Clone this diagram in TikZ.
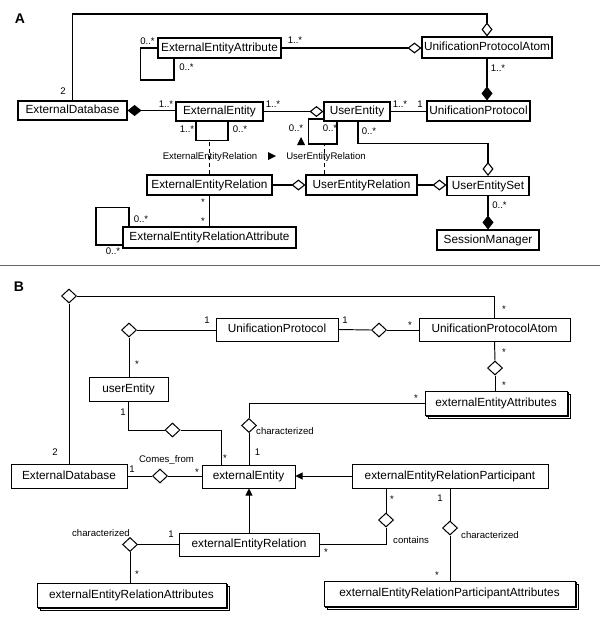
\documentclass[tikz,border=0pt]{standalone}
\usepackage{fontspec}
\setmainfont{Liberation Sans}
\usetikzlibrary{arrows.meta,shapes.geometric,shadows}
\begin{document}
\begin{tikzpicture}[x=1pt,y=-1pt,
 box/.style={draw,line width=1.1pt,fill=white,inner sep=0pt,font=\fontsize{11.8}{14}\selectfont,text height=8.6pt,text depth=2.5pt},
 bbox/.style={box,line width=1pt},
 lbl/.style={font=\fontsize{9.6}{11}\selectfont,inner sep=0pt,text height=6.9pt,text depth=0pt},
 ttl/.style={font=\fontsize{14}{16}\selectfont\bfseries,inner sep=0pt},
 con/.style={line width=1.1pt},
 bcon/.style={line width=0.95pt},
 odA/.style={-{Diamond[fill=white,length=14pt,width=11pt]}},
 fdA/.style={{Diamond[length=14pt,width=11pt]}-},
 fdE/.style={-{Diamond[length=14pt,width=11pt]}},
 dia/.style={diamond,draw,line width=1pt,fill=white,inner sep=0pt,minimum width=15pt,minimum height=14pt},
 gen/.style={-{Triangle[length=7pt,width=7pt]}},
 stk/.style={bbox,double copy shadow={shadow xshift=1.8pt,shadow yshift=-1.8pt}}
]
\useasboundingbox (0,0) rectangle (600,637);

% ---------------- Part A ----------------
\node[ttl] (tA) at (20,19) {A};
\node[box,minimum width=123pt,minimum height=20pt] (EEA) at (219.5,48) {ExternalEntityAttribute};
\node[box,minimum width=130pt,minimum height=21pt] (UPA) at (487,47.5) {UnificationProtocolAtom};
\node[box,minimum width=103pt,minimum height=20pt] (UP) at (478.5,111) {UnificationProtocol};
\node[box,minimum width=109pt,minimum height=19pt] (ED) at (72.5,110.5) {ExternalDatabase};
\node[box,minimum width=87pt,minimum height=19pt] (EE) at (219.5,111.5) {ExternalEntity};
\node[box,minimum width=66pt,minimum height=19pt] (UE) at (357,111.5) {UserEntity};
\node[box,minimum width=125pt,minimum height=20pt] (EER) at (209.5,185) {ExternalEntityRelation};
\node[box,minimum width=111pt,minimum height=20pt] (UER) at (361.5,185) {UserEntityRelation};
\node[box,minimum width=82pt,minimum height=19pt] (UES) at (488,186) {UserEntitySet};
\node[box,minimum width=102pt,minimum height=20pt] (SM) at (488,240) {SessionManager};
\node[box,minimum width=173pt,minimum height=21pt] (EERA) at (209.5,237.5) {ExternalEntityRelationAttribute};
\coordinate (topA) at (300,14);

\draw[con,odA] (ED.north) |- (topA) -| (UPA.north);
\draw[con] (EEA.west) -- ++(-17,0) -- ++(0,32) -| ([xshift=-45.5pt]EEA.south);
\draw[con,odA] (EEA.east) -- (EEA.east -| UPA.west);
\draw[con,fdE] (UPA.south) -- (UPA.south |- UP.north);
\draw[con,fdA] (ED.east) -- (ED.east -| EE.west);
\draw[con,odA] (EE.east) -- (EE.east -| UE.west);
\draw[con] (UE.east) -- (UE.east -| UP.west);
\draw[con] ([xshift=-23.5pt]EE.south) -- ++(0,19) -| ([xshift=8.5pt]EE.south);
\draw[line width=0.95pt,dashed,dash pattern=on 4pt off 3pt] (EER.north) -- ++(0,-35);
\draw[con] ([yshift=-7.5pt]UE.west) -- ++(-15,0) -- ++(0,25) -| ([xshift=-20pt]UE.south);
\draw[line width=0.95pt,dashed,dash pattern=on 4pt off 3pt] ([xshift=-37.5pt]UER.north) -- ++(0,-31);
\draw[con,odA] ([xshift=1pt]UE.south) -- ++(0,22) -| (UES.north);
\draw[con,odA] (EER.east) -- (EER.east -| UER.west);
\draw[con,odA] (UER.east) -- (UER.east -| UES.west);
\draw[con,fdE] (UES.south) -- (UES.south |- SM.north);
\draw[con] (EER.south) -- (EERA.north);
\draw[con] ([xshift=-80.5pt]EERA.north) -- ++(0,-19) -- ++(-33,0) |- ([yshift=-7.5pt]EERA.west);

\node[lbl] at (63,91) {2};
\node[lbl] at (147.5,41) {0..*};
\node[lbl] at (186.5,67) {0..*};
\node[lbl] at (295,40) {1..*};
\node[lbl] at (498,68) {1..*};
\node[lbl] at (166,104.5) {1..*};
\node[lbl] at (273,104) {1..*};
\node[lbl] at (400,104) {1..*};
\node[lbl] at (420,104) {1};
\node[lbl] at (187,129) {1..*};
\node[lbl] at (240,129) {0..*};
\node[lbl] at (296,128) {0..*};
\node[lbl] at (330,128) {0..*};
\node[lbl] at (369,131.5) {0..*};
\node[lbl] at (210,156) {ExternalEntityRelation};
\node[lbl] at (326,156) {UserEntityRelation};
\fill (268,152) -- (276,156) -- (268,160) -- cycle;
\fill (297,145) -- (301,137) -- (305,145) -- cycle;
\node[lbl] at (203,202) {*};
\node[lbl] at (203,221) {*};
\node[lbl] at (141,219) {0..*};
\node[lbl] at (113,251) {0..*};
\node[lbl] at (499.5,205) {0..*};

% separator
\draw[line width=0.8pt,black!60] (0,265) -- (600,265);

% ---------------- Part B ----------------
\node[ttl] (tB) at (19,287) {B};
\node[bbox,minimum width=122pt,minimum height=23pt] (bUP) at (277,329.5) {UnificationProtocol};
\node[bbox,minimum width=151pt,minimum height=23pt] (bUPA) at (494.5,329.5) {UnificationProtocolAtom};
\node[bbox,minimum width=79pt,minimum height=24pt] (uE) at (128.5,389) {userEntity};
\node[stk,minimum width=142pt,minimum height=24pt] (eEA) at (496,403) {externalEntityAttributes};
\node[bbox,minimum width=116pt,minimum height=24pt] (bED) at (69,476) {ExternalDatabase};
\node[bbox,minimum width=93pt,minimum height=23pt] (eE) at (248.5,476.5) {externalEntity};
\node[bbox,minimum width=196pt,minimum height=24pt] (eERP) at (450,476) {externalEntityRelationParticipant};
\node[bbox,minimum width=140pt,minimum height=23pt] (eER) at (249,544.5) {externalEntityRelation};
\node[stk,minimum width=189pt,minimum height=24pt] (eERA) at (131.5,595) {externalEntityRelationAttributes};
\node[stk,minimum width=251pt,minimum height=25pt] (eERPA) at (449.5,593.5) {externalEntityRelationParticipantAttributes};

\node[dia] (dTop) at (69,296) {};
\node[dia] (dUP) at (129,330) {};
\node[dia] (dUPA) at (379,330) {};
\node[dia] (dAtt) at (495,368) {};
\node[dia] (dUser) at (172.5,430) {};
\node[dia] (dChar) at (249,425.5) {};
\node[dia] (dCome) at (160,476) {};
\node[dia] (dCont) at (386,520) {};
\node[dia] (dPChar) at (450,528) {};
\node[dia] (dRChar) at (130,544.5) {};

\draw[bcon] (bED.north) -- (dTop.south);
\draw[bcon] (dTop.east) -| (bUPA.north);
\draw[bcon] (dUP.east) -- (dUP.east -| bUP.west);
\draw[bcon] (dUP.south) -- (dUP.south |- uE.north);
\draw[bcon] (bUP.east) -- (dUPA.west);
\draw[bcon] (dUPA.east) -- (dUPA.east -| bUPA.west);
\draw[bcon] (bUPA.south) -- (dAtt.north);
\draw[bcon] (dAtt.south) -- (dAtt.south |- eEA.north);
\draw[bcon] (eEA.west) -| (dChar.north);
\draw[bcon] (dChar.south) -- (dChar.south |- eE.north);
\draw[bcon] (uE.south) |- (dUser.west);
\draw[bcon] (dUser.east) -| ([xshift=-27.5pt]eE.north);
\draw[bcon] (bED.east) -- (dCome.west);
\draw[bcon] (dCome.east) -- (dCome.east -| eE.west);
\draw[bcon,gen] (eERP.west) -- (eERP.west -| eE.east);
\draw[bcon,gen] (eER.north) -- (eER.north |- eE.south);
\draw[bcon] (eER.east) -| (dCont.south);
\draw[bcon] (dCont.north) -- (dCont.north |- eERP.south);
\draw[bcon] (eERP.south) -- (dPChar.north);
\draw[bcon] (dPChar.south) -- (dPChar.south |- eERPA.north);
\draw[bcon] (eER.west) -- (dRChar.east);
\draw[bcon] (dRChar.south) -- (dRChar.south |- eERA.north);

\node[lbl] at (504,309) {*};
\node[lbl] at (207,320) {1};
\node[lbl] at (137,364) {*};
\node[lbl] at (345,320) {1};
\node[lbl] at (410,325) {*};
\node[lbl] at (504,352) {*};
\node[lbl] at (504,385) {*};
\node[lbl] at (416,398) {*};
\node[lbl,anchor=west] at (256,431) {characterized};
\node[lbl] at (257.5,452) {1};
\node[lbl] at (123,412) {1};
\node[lbl] at (225,458) {*};
\node[lbl] at (55,452) {2};
\node[lbl] at (132,469) {1};
\node[lbl] at (166.5,459) {Comes\_from};
\node[lbl] at (197,472) {*};
\node[lbl] at (392,499) {*};
\node[lbl] at (440,498) {1};
\node[lbl,anchor=west] at (393,540.5) {contains};
\node[lbl] at (326,552) {*};
\node[lbl,anchor=west] at (461,535) {characterized};
\node[lbl] at (437,575) {*};
\node[lbl] at (171,534.5) {1};
\node[lbl] at (101,533) {characterized};
\node[lbl] at (137,574) {*};
\end{tikzpicture}
\end{document}
